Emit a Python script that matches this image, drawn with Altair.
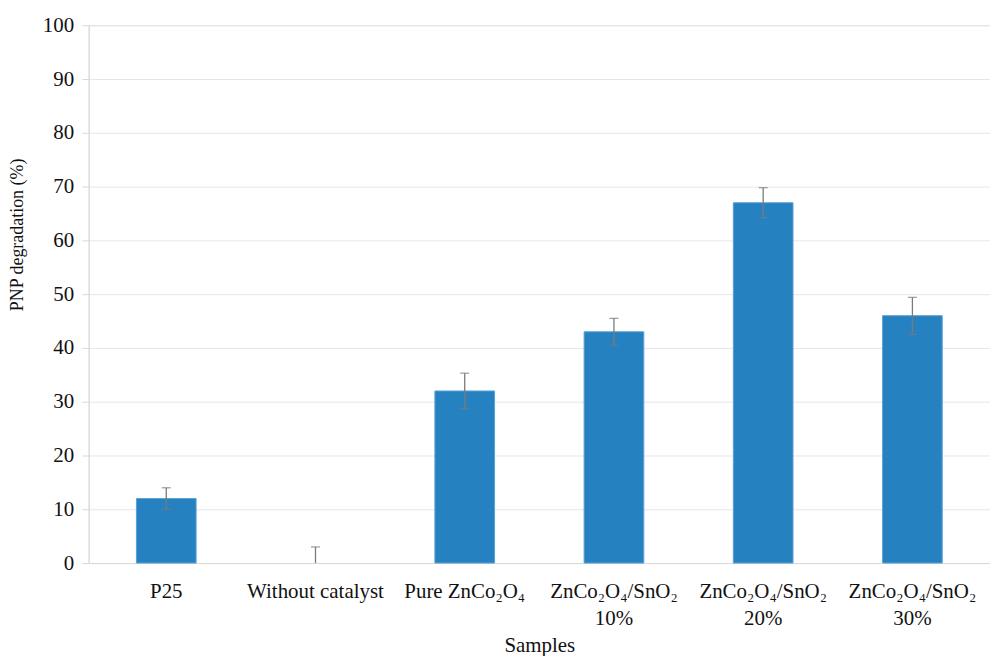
import altair as alt
import pandas as pd

samples = ["P25", "Without catalyst", "Pure ZnCo₂O₄",
           "ZnCo₂O₄/SnO₂\n10%", "ZnCo₂O₄/SnO₂\n20%", "ZnCo₂O₄/SnO₂\n30%"]
degradation = [12, 0, 32, 43, 67, 46]
err_low = [10, 0, 28.7, 40.5, 64.2, 42.5]
err_high = [14, 3, 35.3, 45.5, 69.8, 49.4]

df = pd.DataFrame({"sample": samples, "value": degradation,
                   "lo": err_low, "hi": err_high})

FONT = "Liberation Serif"

x = alt.X("sample:N", sort=samples, title="Samples",
          scale=alt.Scale(paddingInner=0.6, paddingOuter=0.32),
          axis=alt.Axis(labelAngle=0, labelExpr="split(datum.label, '\\n')",
                        labelFontSize=21, labelFont=FONT, labelColor="#111",
                        labelLineHeight=27, labelPadding=18, ticks=False,
                        domainColor="#d9d9d9", titleFontSize=21, titleFont=FONT,
                        titleFontWeight="normal", titleColor="#111", titlePadding=6))

y_scale = alt.Scale(domain=[0, 100])

bars = alt.Chart(df).transform_filter("datum.value > 0").mark_bar(
    color="#2681C1", stroke="#5aa3d6", strokeWidth=1).encode(
    x=x,
    y=alt.Y("value:Q", scale=y_scale, title="PNP degradation  (%)",
            axis=alt.Axis(values=list(range(0, 101, 10)), labelFontSize=21,
                          labelFont=FONT, labelColor="#111", tickColor="#d9d9d9",
                          tickSize=7, labelPadding=8, gridColor="#e6e6e6",
                          domainColor="#d9d9d9", titleFontSize=18, titleFont=FONT,
                          titleFontWeight="normal", titleColor="#111",
                          titleX=-71, titleY=210, titleBaseline="middle",
                          titleAngle=-90, titleAlign="center")),
)

rules = alt.Chart(df).mark_rule(color="#7a7a7a", strokeWidth=1.3).encode(
    x=alt.X("sample:N", sort=samples), y=alt.Y("lo:Q", scale=y_scale), y2="hi:Q")
cap_hi = alt.Chart(df).mark_tick(color="#7a7a7a", size=9, thickness=1.3, orient="horizontal").encode(
    x=alt.X("sample:N", sort=samples), y=alt.Y("hi:Q", scale=y_scale))
cap_lo = alt.Chart(df[df["lo"] > 0]).mark_tick(color="#7a7a7a", size=9, thickness=1.3, orient="horizontal").encode(
    x=alt.X("sample:N", sort=samples), y=alt.Y("lo:Q", scale=y_scale))

chart = alt.layer(bars, rules, cap_hi, cap_lo).properties(
    width=905, height=540,
    autosize=alt.AutoSizeParams(type="none"),
    padding={"left": 81, "top": 16, "right": 0, "bottom": 92},
).configure_view(stroke=None).configure(background="white")

chart.save("out.html", embed_options={"renderer": "svg", "actions": False})
